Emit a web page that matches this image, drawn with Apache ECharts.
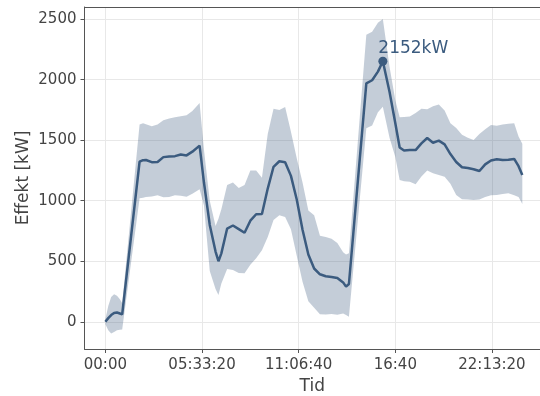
<!DOCTYPE html>
<html>
<head>
<meta charset="utf-8">
<script src="https://cdn.jsdelivr.net/npm/echarts@6/dist/echarts.min.js"></script>
<style>
html,body{margin:0;padding:0;background:#fff;}
#chart{width:540px;height:396px;}
</style>
</head>
<body>
<div id="chart"></div>
<script>
// time of day in minutes
const timeMin = [0,10,20,30,40,50,58,118,130,140,160,180,200,220,240,260,280,300,325,340,360,380,390,400,420,440,460,480,500,520,540,560,580,600,620,640,660,680,700,720,740,760,780,800,820,830,840,900,920,940,957,980,1000,1015,1030,1050,1070,1090,1110,1130,1150,1170,1190,1210,1230,1250,1270,1290,1310,1330,1350,1370,1390,1410,1425,1438];
const meanKW = [0,30,55,72,76,68,61,1322,1335,1336,1318,1320,1360,1366,1368,1381,1374,1405,1455,1150,800,580,500,565,770,795,765,735,835,888,890,1100,1280,1326,1318,1205,1010,760,555,440,392,376,370,362,325,290,312,1970,1995,2066,2152,1900,1640,1440,1415,1418,1418,1474,1518,1479,1496,1465,1385,1320,1276,1270,1260,1245,1300,1332,1342,1336,1338,1345,1285,1212];
const upperKW = [20,130,205,228,215,185,152,1630,1640,1632,1615,1630,1665,1678,1689,1697,1705,1740,1808,1420,1000,790,850,930,1130,1150,1105,1130,1250,1250,1190,1550,1760,1750,1775,1570,1350,1150,920,880,710,700,685,650,575,555,565,2370,2395,2470,2500,2107,1830,1690,1692,1695,1725,1760,1755,1780,1795,1745,1640,1600,1545,1520,1502,1550,1590,1625,1620,1630,1636,1640,1530,1470];
const lowerKW = [-20,-70,-96,-85,-70,-66,-63,1020,1025,1030,1035,1045,1028,1030,1045,1040,1033,1058,1094,960,420,270,221,317,435,427,402,400,470,525,590,700,840,880,865,765,545,330,170,115,62,60,65,58,68,55,41,1598,1622,1730,1777,1520,1360,1171,1160,1157,1135,1200,1250,1226,1212,1198,1140,1047,1012,1010,1006,1010,1030,1045,1047,1055,1061,1045,1030,973];
const xTicks = [0,20000,40000,60000,80000];
const yTicks = [0,500,1000,1500,2000,2500];
const peakIndex = 50;

const lineColor = '#3b5b7f';
const font = 'DejaVu Sans';
const tSec = timeMin.map(m => m * 60);
const pad = n => String(n).padStart(2, '0');
function fmtTime(s) {
  const h = Math.floor(s / 3600), m = Math.floor((s % 3600) / 60), sec = Math.round(s % 60);
  return sec === 0 ? pad(h) + ':' + pad(m) : pad(h) + ':' + pad(m) + ':' + pad(sec);
}

function renderBand(params, api) {
  if (params.dataIndex !== 0) return null;
  const pts = [];
  for (let i = 0; i < tSec.length; i++) pts.push(api.coord([tSec[i], upperKW[i]]));
  for (let i = tSec.length - 1; i >= 0; i--) pts.push(api.coord([tSec[i], lowerKW[i]]));
  return {
    type: 'polygon',
    shape: {points: pts},
    style: {fill: lineColor, opacity: 0.3},
    silent: true
  };
}

const chart = echarts.init(document.getElementById('chart'), null, {renderer: 'canvas'});
chart.setOption({
  animation: false,
  grid: {left: 84.5, top: 7, right: 0, height: 342, show: false, containLabel: false, outerBoundsMode: 'none'},
  xAxis: [{
    type: 'value', min: -4320, max: 89940,
    name: 'Tid', nameLocation: 'middle', nameGap: 29, nameMoveOverlap: false,
    nameTextStyle: {fontFamily: font, fontSize: 17, color: '#444'},
    axisLine: {show: true, onZero: false, lineStyle: {color: '#555'}},
    axisTick: {show: true, length: 4, customValues: xTicks, lineStyle: {color: '#555'}},
    axisLabel: {customValues: xTicks, formatter: v => fmtTime(v), fontFamily: font, fontSize: 15, color: '#444', margin: 9},
    splitLine: {show: true, lineStyle: {color: '#e8e8e8', width: 1}}
  }, {
    type: 'value', position: 'top', min: -4320, max: 89940,
    axisLine: {show: true, onZero: false, lineStyle: {color: '#555'}},
    axisTick: {show: false}, axisLabel: {show: false}, splitLine: {show: false}
  }],
  yAxis: {
    type: 'value', min: -225, max: 2600,
    name: 'Effekt [kW]', nameLocation: 'middle', nameGap: 52, nameRotate: 90, nameMoveOverlap: false,
    nameTextStyle: {fontFamily: font, fontSize: 17, color: '#444'},
    axisLine: {show: true, onZero: false, lineStyle: {color: '#555'}},
    axisTick: {show: true, length: 4, customValues: yTicks, lineStyle: {color: '#555'}},
    axisLabel: {customValues: yTicks, formatter: v => String(v), fontFamily: font, fontSize: 15, color: '#444', margin: 8},
    splitLine: {show: true, lineStyle: {color: '#e8e8e8', width: 1}}
  },
  series: [
    {
      type: 'custom', renderItem: renderBand, silent: true, clip: true,
      encode: {x: 0, y: 1},
      data: tSec.map((t, i) => [t, lowerKW[i], upperKW[i]])
    },
    {
      type: 'line', symbol: 'none', lineStyle: {color: lineColor, width: 2.5},
      data: tSec.map((t, i) => [t, meanKW[i]])
    },
    {
      type: 'scatter', symbolSize: 9, itemStyle: {color: lineColor, opacity: 1},
      data: [[tSec[peakIndex], meanKW[peakIndex]]],
      label: {show: true, position: [0, -17], formatter: p => Math.round(p.value[1]) + 'kW',
        fontFamily: font, fontSize: 17, color: lineColor, opacity: 1}
    }
  ]
});
</script>
</body>
</html>
